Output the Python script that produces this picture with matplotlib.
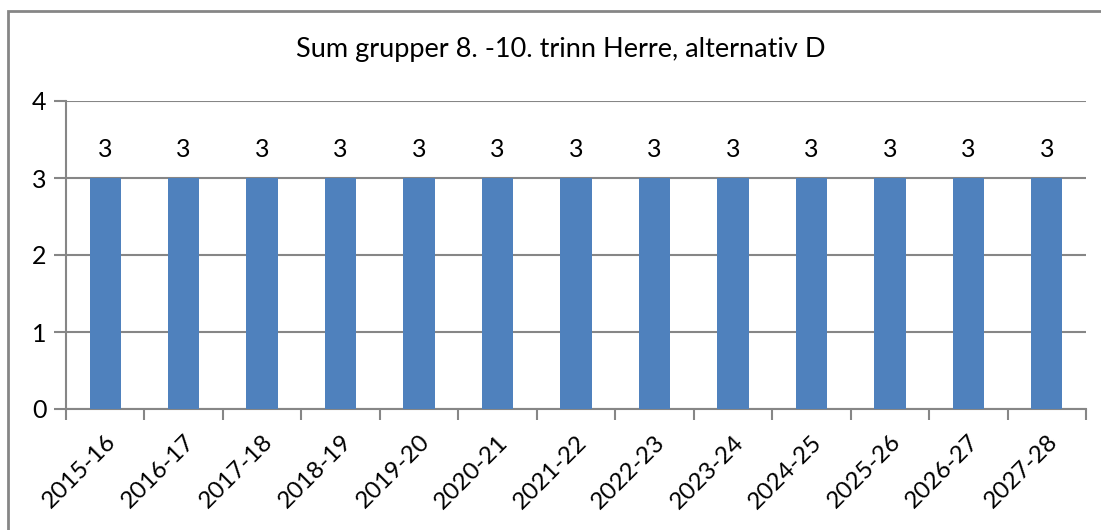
import matplotlib
matplotlib.use("Agg")
import matplotlib.pyplot as plt
from matplotlib.patches import Rectangle
import numpy as np

seasons = ["2015-16", "2016-17", "2017-18", "2018-19", "2019-20", "2020-21",
           "2021-22", "2022-23", "2023-24", "2024-25", "2025-26", "2026-27",
           "2027-28"]
groups = [3, 3, 3, 3, 3, 3, 3, 3, 3, 3, 3, 3, 3]
title = "Sum grupper 8. -10. trinn Herre, alternativ D"

plt.rcParams["font.family"] = ["Lato", "DejaVu Sans"]
grey = "#868686"
blue = "#4F81BD"

W, H = 1101, 530
fig = plt.figure(figsize=(W / 100, H / 100), dpi=100)
ax = fig.add_axes([66 / W, 1 - 409 / H, (1086 - 66) / W, (409 - 101) / H])

x = np.arange(len(seasons))
bars = ax.bar(x, groups, width=0.4, color=blue, zorder=3)
for xi, v in zip(x, groups):
    ax.annotate(str(v), (xi, v), xytext=(0, 12), textcoords="offset points",
                ha="center", va="bottom", fontsize=18)

ax.set_xlim(-0.5, len(seasons) - 0.5)
ax.set_ylim(0, 4)
ax.set_yticks([0, 1, 2, 3, 4])
ax.yaxis.grid(True, color=grey, linewidth=1.5, zorder=0)
ax.tick_params(axis="y", length=9, width=1.5, color=grey, labelsize=18, pad=5)

ax.set_xticks(x)
ax.set_xticklabels(seasons, rotation=45, ha="right", va="top",
                   rotation_mode="anchor", fontsize=17.5)
ax.set_xticks(np.arange(len(seasons) + 1) - 0.5, minor=True)
ax.tick_params(axis="x", which="major", length=0, pad=16)
ax.tick_params(axis="x", which="minor", length=8, width=1.5, color=grey)

for side in ["top", "right"]:
    ax.spines[side].set_visible(False)
for side in ["left", "bottom"]:
    ax.spines[side].set_color(grey)
    ax.spines[side].set_linewidth(1.5)

fig.text(561 / W, 1 - 50 / H, title, ha="center", va="center", fontsize=19.5)

# chart border, only top and left edges fall inside the picture
fig.patches.append(Rectangle((7.5 / W, -0.1), 1.2, 1 - 10.5 / H + 0.1,
                             transform=fig.transFigure, fill=False,
                             edgecolor=grey, linewidth=2))

fig.savefig("out.png", dpi=100)
